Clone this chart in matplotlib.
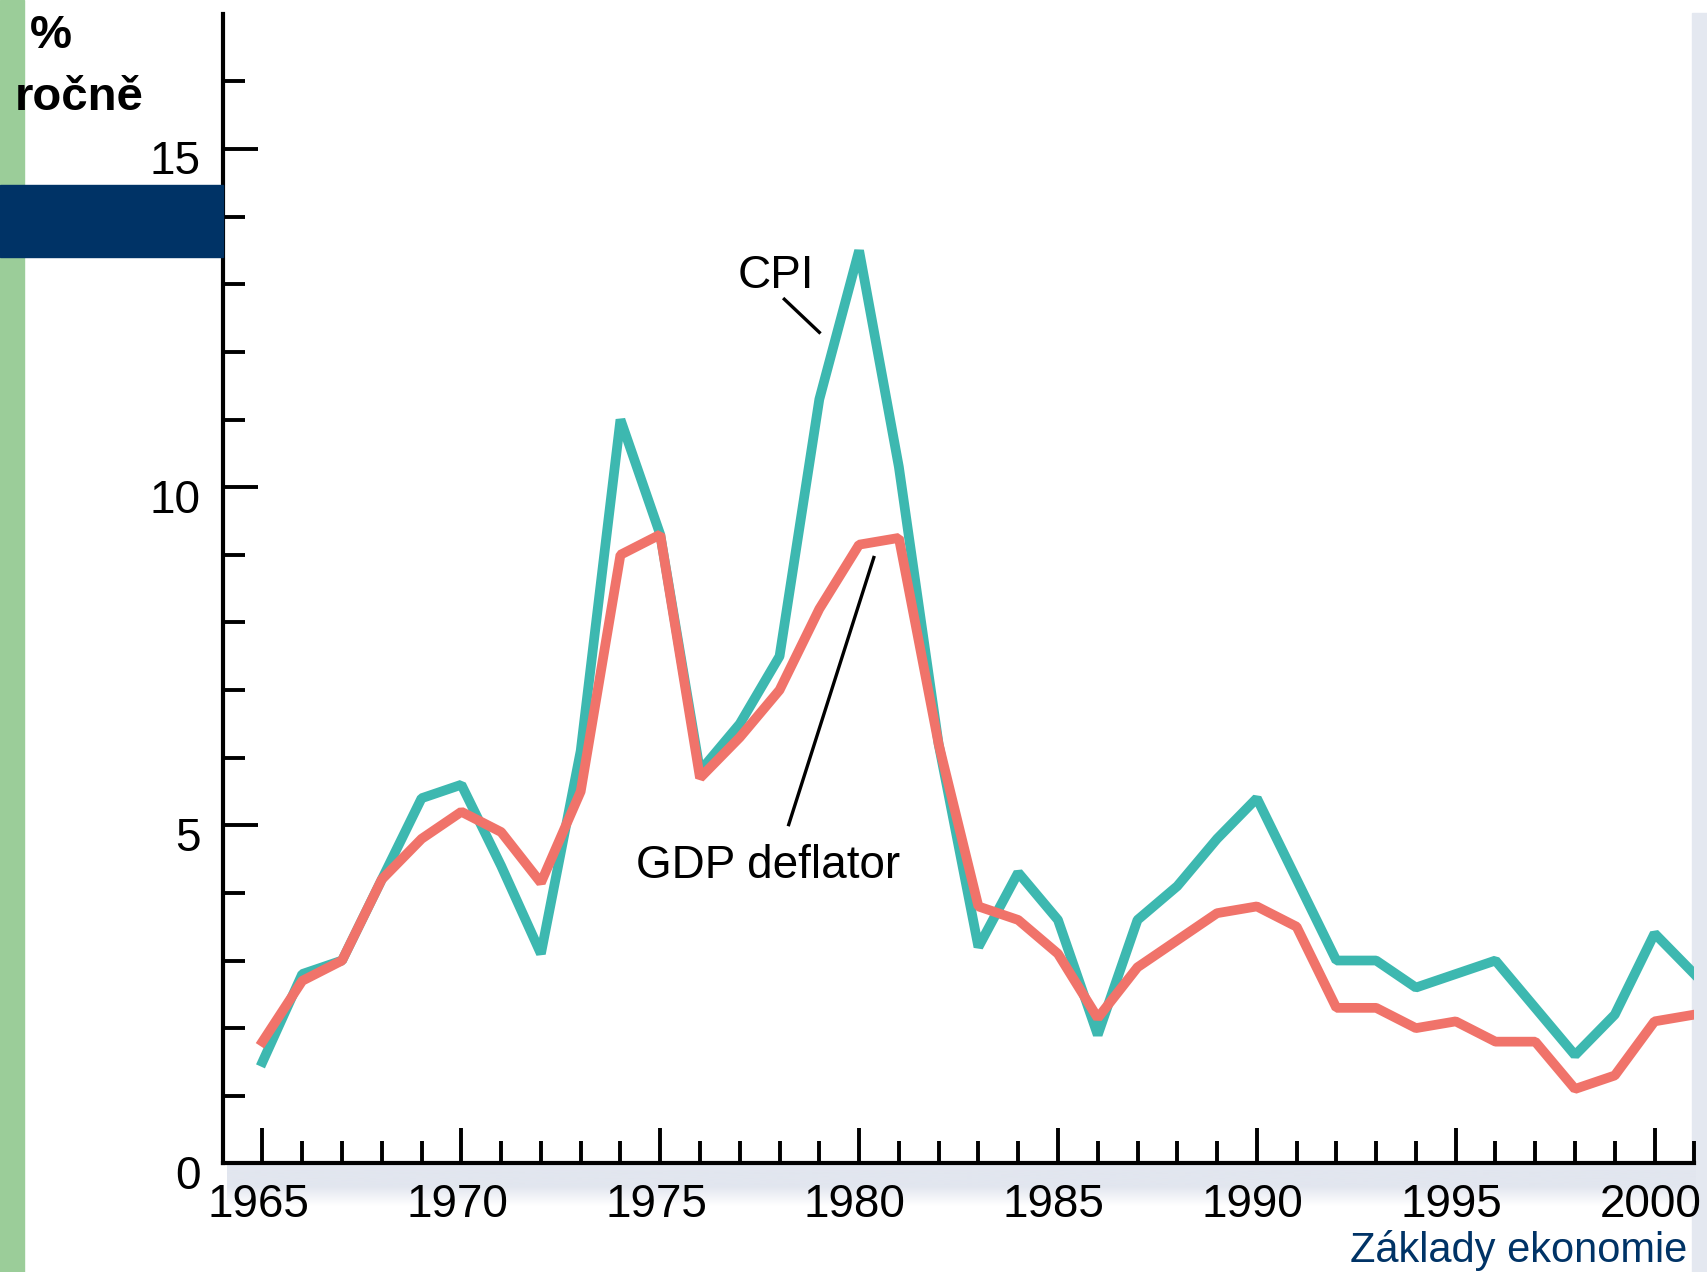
import numpy as np
import matplotlib
matplotlib.use('Agg')
import matplotlib.pyplot as plt
import matplotlib.transforms as mtransforms
from matplotlib.patches import Rectangle

plt.rcParams['font.family'] = ['Liberation Sans', 'DejaVu Sans']

years = list(range(1965, 2002))
cpi = [1.5, 2.8, 3.0, 4.2, 5.4, 5.6, 4.4, 3.1, 6.1, 11.0,
       9.3, 5.8, 6.5, 7.5, 11.3, 13.5, 10.3, 6.2, 3.2, 4.3,
       3.6, 1.9, 3.6, 4.1, 4.8, 5.4, 4.2, 3.0, 3.0, 2.6,
       2.8, 3.0, 2.3, 1.6, 2.2, 3.4, 2.8]
deflator = [1.8, 2.7, 3.0, 4.2, 4.8, 5.2, 4.9, 4.15, 5.5, 9.0,
            9.3, 5.7, 6.3, 7.0, 8.2, 9.15, 9.25, 6.2, 3.8, 3.6,
            3.1, 2.15, 2.9, 3.3, 3.7, 3.8, 3.5, 2.3, 2.3, 2.0,
            2.1, 1.8, 1.8, 1.1, 1.3, 2.1, 2.2]

x_major = [1965, 1970, 1975, 1980, 1985, 1990, 1995, 2000]
y_major = [0, 5, 10, 15]

teal = '#3db8b0'
salmon = '#f0736a'
navy = '#003366'

fig = plt.figure(figsize=(17.08, 12.72), dpi=100)

# background decorations (figure coords)
grad = np.concatenate([np.ones(55), np.linspace(1, 0, 45)]).reshape(-1, 1)
gax = fig.add_axes([0.133, 0.052, 0.86, 0.034])
gax.imshow(grad, aspect='auto', cmap=matplotlib.colors.LinearSegmentedColormap.from_list(
    'g', ['#ffffff', '#e2e6ef']), extent=[0, 1, 0, 1], vmin=0, vmax=1)
gax.axis('off')
fig.patches.append(Rectangle((0.9905, 0.0), 0.0095, 0.99, transform=fig.transFigure,
                             color='#e4e8f0', zorder=-1))
fig.patches.append(Rectangle((0.0, 0.0), 0.014, 1.0, transform=fig.transFigure,
                             color='#9bcd99', zorder=1))
fig.patches.append(Rectangle((0.0, 0.798), 0.1304, 0.0565, transform=fig.transFigure,
                             color=navy, zorder=2))

ax = fig.add_axes([0.1304, 0.0854, 0.8616, 0.9037])
ax.patch.set_alpha(0)

ax.plot(years, cpi, color=teal, lw=7, solid_joinstyle='bevel', zorder=3)
ax.plot(years, deflator, color=salmon, lw=7, solid_joinstyle='bevel', zorder=4)

ax.set_xlim(1964, 2001)
ax.set_ylim(0, 17)

for s in ['top', 'right']:
    ax.spines[s].set_visible(False)
for s in ['left', 'bottom']:
    ax.spines[s].set_linewidth(3)

ax.set_xticks(x_major)
ax.set_xticks(range(1965, 2002), minor=True)
ax.set_yticks(y_major)
ax.set_yticks(range(1, 17), minor=True)
ax.tick_params(which='both', direction='in', width=2.8, color='black', labelsize=33)
ax.tick_params(which='major', length=25)
ax.tick_params(which='minor', length=16)
ax.tick_params(axis='x', pad=14)
ax.tick_params(axis='y', pad=16)

# y labels sit a bit below their ticks in the original
off = mtransforms.ScaledTranslation(0, -6 / 72, fig.dpi_scale_trans)
for lbl in ax.get_yticklabels():
    lbl.set_transform(lbl.get_transform() + off)
offx = mtransforms.ScaledTranslation(-3 / 72, 0, fig.dpi_scale_trans)
for lbl in ax.get_xticklabels():
    lbl.set_transform(lbl.get_transform() + offx)

# annotations
ax.text(1977.9, 12.95, 'CPI', fontsize=33, ha='center', va='baseline')
ax.plot([1978.12, 1979.0], [12.78, 12.29], color='black', lw=2.4)
ax.text(1977.71, 4.22, 'GDP deflator', fontsize=33, ha='center', va='baseline')
ax.plot([1978.23, 1980.37], [5.01, 8.96], color='black', lw=2.4)

fig.text(0.0176, 0.962, '%', fontsize=34, fontweight='bold', ha='left', va='baseline')
fig.text(0.0088, 0.9135, 'ročně', fontsize=34, fontweight='bold', ha='left', va='baseline')
fig.text(0.988, 0.0075, 'Základy ekonomie', fontsize=30, color=navy,
         family=['Liberation Sans Narrow', 'Liberation Sans'], ha='right', va='baseline')

fig.savefig('out.png', dpi=100)
